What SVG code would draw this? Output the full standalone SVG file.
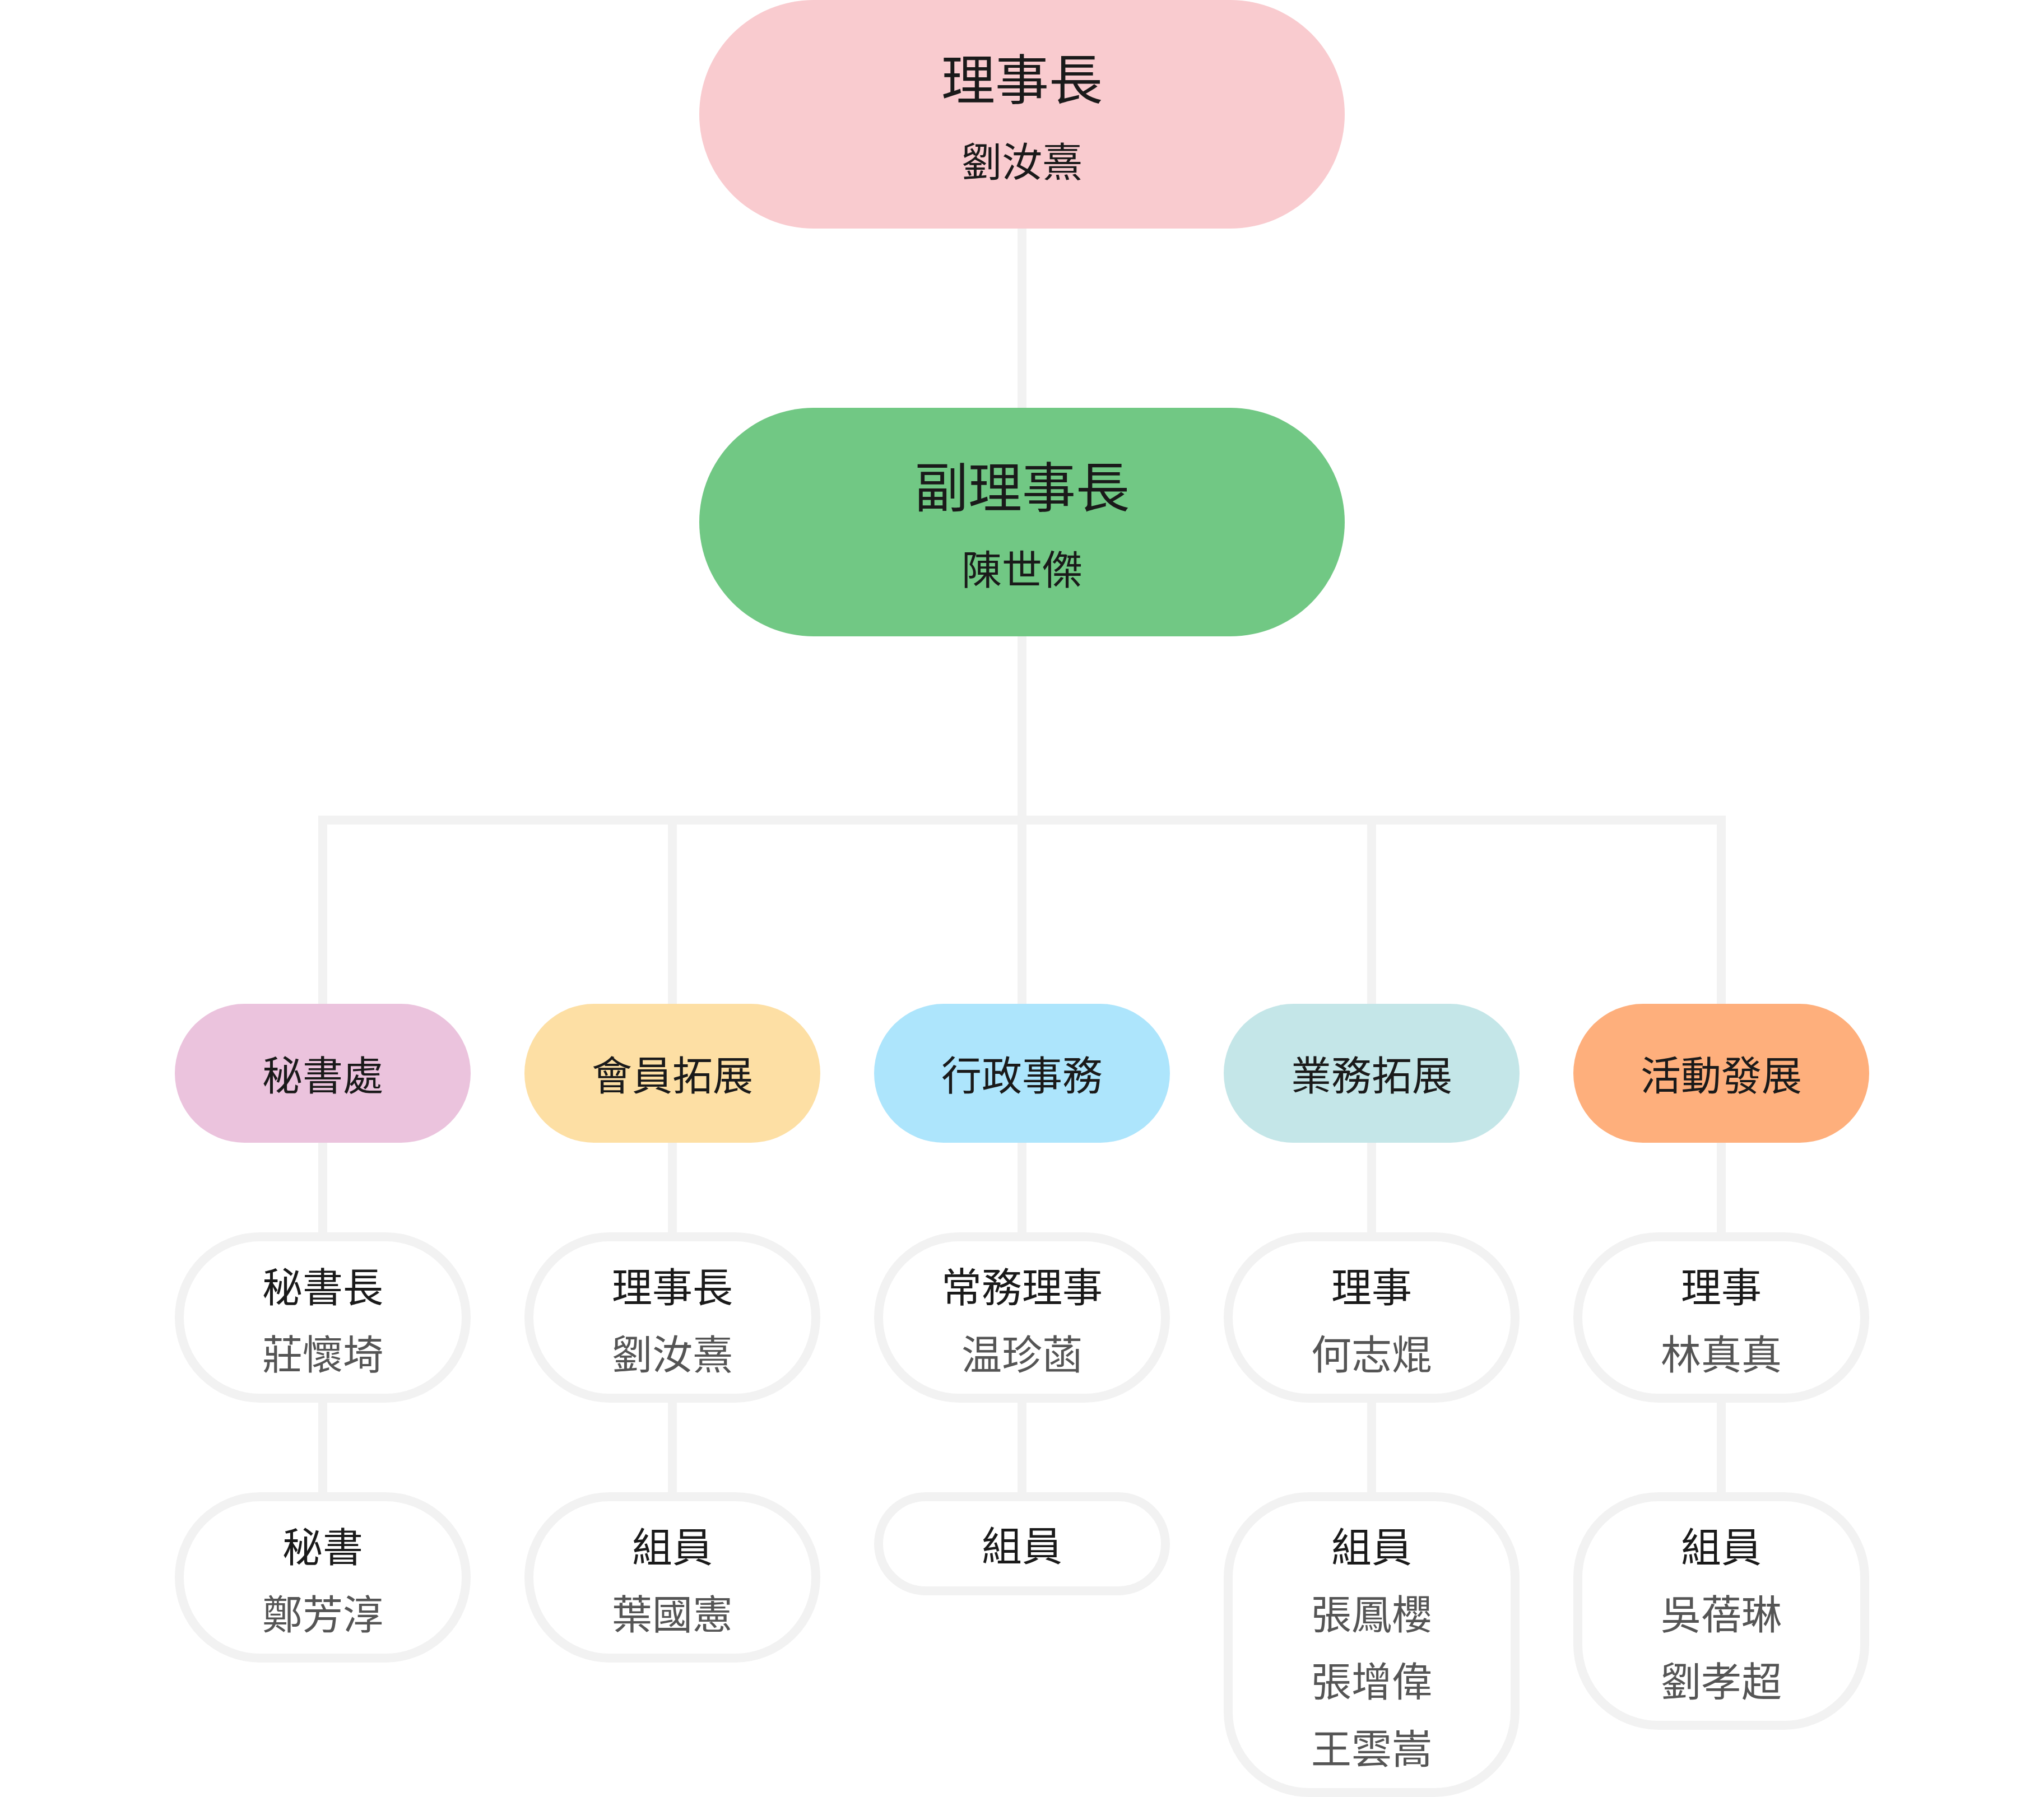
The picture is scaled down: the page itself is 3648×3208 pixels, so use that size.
<svg xmlns="http://www.w3.org/2000/svg" width="3648" height="3208" viewBox="0 0 3648 3208">
<style>
.t{font-family:"Noto Sans CJK TC","Noto Sans CJK SC",sans-serif;text-anchor:middle;dominant-baseline:central;fill:#1a1a1a}
.big{font-size:96px}
.mid{font-size:72px}
.nm{font-size:72px;fill:#555555}
.nmd{font-size:72px;fill:#1a1a1a}
.box{fill:#ffffff;stroke:#f2f2f2;stroke-width:16}
.con{fill:none;stroke:#f2f2f2;stroke-width:16;stroke-linejoin:miter;stroke-linecap:butt}
</style>
<rect width="3648" height="3208" fill="#ffffff"/>
<g id="connectors">
<path class="con" d="M1824 408V728M1824 1136V1792M576 1792V1464H3072V1792M1200 1464V1792M2448 1464V1792"/>
<path class="con" d="M576 2040V2200M1200 2040V2200M1824 2040V2200M2448 2040V2200M3072 2040V2200"/>
<path class="con" d="M576 2504V2664M1200 2504V2664M1824 2504V2664M2448 2504V2664M3072 2504V2664"/>
</g>
<g id="chairman">
<rect x="1248" y="0" width="1152" height="408" rx="204" fill="#f9cbcf"/>
<text class="t big" x="1824" y="135">理事長</text>
<text class="t nmd" x="1824" y="283">劉汝熹</text>
</g>
<g id="vice-chairman">
<rect x="1248" y="728" width="1152" height="408" rx="204" fill="#71c884"/>
<text class="t big" x="1824" y="863">副理事長</text>
<text class="t nmd" x="1824" y="1011">陳世傑</text>
</g>
<g id="dept-secretariat">
<rect x="312" y="1792" width="528" height="248" rx="124" fill="#ebc3dd"/>
<text class="t mid" x="576" y="1914">秘書處</text>
</g>
<g id="dept-membership">
<rect x="936" y="1792" width="528" height="248" rx="124" fill="#fddfa4"/>
<text class="t mid" x="1200" y="1914">會員拓展</text>
</g>
<g id="dept-admin">
<rect x="1560" y="1792" width="528" height="248" rx="124" fill="#ade5fc"/>
<text class="t mid" x="1824" y="1914">行政事務</text>
</g>
<g id="dept-business">
<rect x="2184" y="1792" width="528" height="248" rx="124" fill="#c4e6e8"/>
<text class="t mid" x="2448" y="1914">業務拓展</text>
</g>
<g id="dept-activity">
<rect x="2808" y="1792" width="528" height="248" rx="124" fill="#feaf7c"/>
<text class="t mid" x="3072" y="1914">活動發展</text>
</g>
<g id="secretary-general">
<rect class="box" x="320" y="2208" width="512" height="288" rx="144"/>
<text class="t mid" x="576" y="2292">秘書長</text>
<text class="t nm" x="576" y="2412">莊懷埼</text>
</g>
<g id="membership-head">
<rect class="box" x="944" y="2208" width="512" height="288" rx="144"/>
<text class="t mid" x="1200" y="2292">理事長</text>
<text class="t nm" x="1200" y="2412">劉汝熹</text>
</g>
<g id="admin-head">
<rect class="box" x="1568" y="2208" width="512" height="288" rx="144"/>
<text class="t mid" x="1824" y="2292">常務理事</text>
<text class="t nm" x="1824" y="2412">温珍菡</text>
</g>
<g id="business-head">
<rect class="box" x="2192" y="2208" width="512" height="288" rx="144"/>
<text class="t mid" x="2448" y="2292">理事</text>
<text class="t nm" x="2448" y="2412">何志焜</text>
</g>
<g id="activity-head">
<rect class="box" x="2816" y="2208" width="512" height="288" rx="144"/>
<text class="t mid" x="3072" y="2292">理事</text>
<text class="t nm" x="3072" y="2412">林真真</text>
</g>
<g id="secretary">
<rect class="box" x="320" y="2672" width="512" height="288" rx="144"/>
<text class="t mid" x="576" y="2756">秘書</text>
<text class="t nm" x="576" y="2876">鄭芳淳</text>
</g>
<g id="membership-members">
<rect class="box" x="944" y="2672" width="512" height="288" rx="144"/>
<text class="t mid" x="1200" y="2756">組員</text>
<text class="t nm" x="1200" y="2876">葉國憲</text>
</g>
<g id="admin-members">
<rect class="box" x="1568" y="2672" width="512" height="168" rx="84"/>
<text class="t mid" x="1824" y="2754">組員</text>
</g>
<g id="business-members">
<rect class="box" x="2192" y="2672" width="512" height="528" rx="144"/>
<text class="t mid" x="2448" y="2756">組員</text>
<text class="t nm" x="2448" y="2876">張鳳櫻</text>
<text class="t nm" x="2448" y="2996">張增偉</text>
<text class="t nm" x="2448" y="3116">王雲嵩</text>
</g>
<g id="activity-members">
<rect class="box" x="2816" y="2672" width="512" height="408" rx="144"/>
<text class="t mid" x="3072" y="2756">組員</text>
<text class="t nm" x="3072" y="2876">吳蓓琳</text>
<text class="t nm" x="3072" y="2996">劉孝超</text>
</g>
</svg>
